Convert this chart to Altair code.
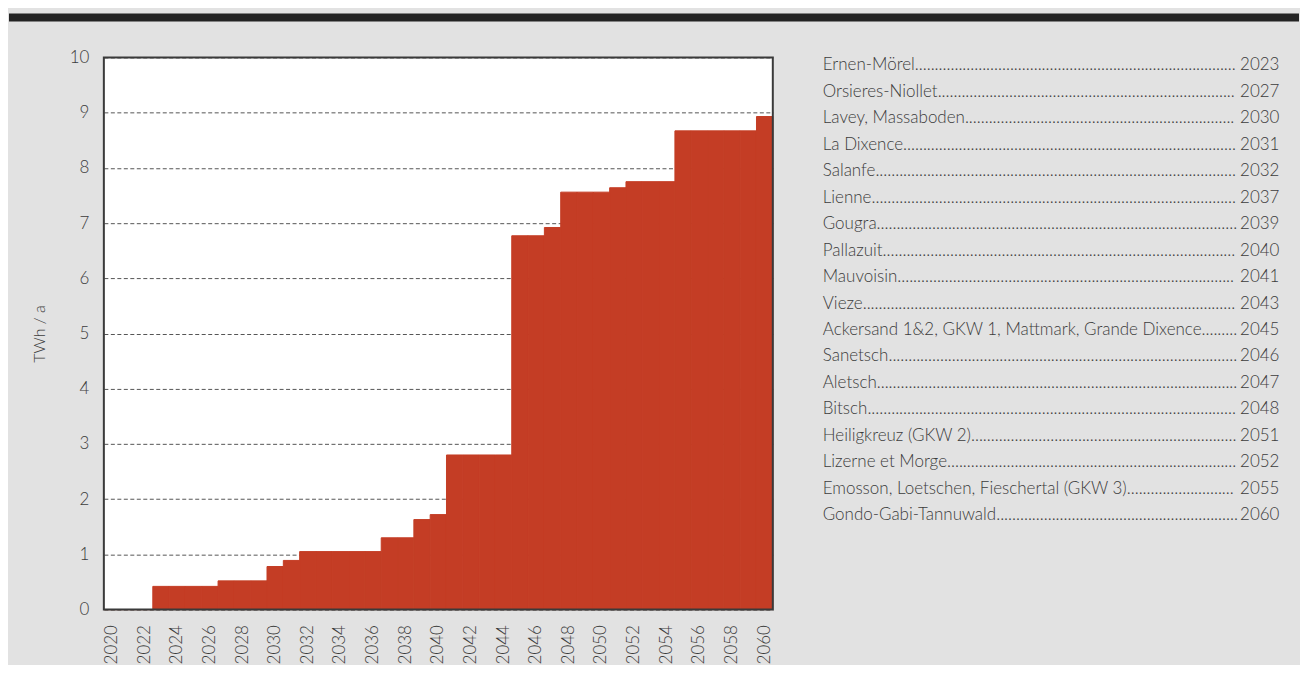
import altair as alt
import pandas as pd

# ---- data ----
years = list(range(2020, 2061))
twh = [0, 0, 0, 0.42, 0.42, 0.42, 0.42, 0.52, 0.52, 0.52, 0.78, 0.89,
       1.05, 1.05, 1.05, 1.05, 1.05, 1.30, 1.30, 1.63, 1.72,
       2.80, 2.80, 2.80, 2.80, 6.77, 6.77, 6.92, 7.56, 7.56, 7.56, 7.64,
       7.75, 7.75, 7.75, 8.67, 8.67, 8.67, 8.67, 8.67, 8.93]

plants = ["Ernen-Mörel", "Orsieres-Niollet", "Lavey, Massaboden", "La Dixence",
          "Salanfe", "Lienne", "Gougra", "Pallazuit", "Mauvoisin", "Vieze",
          "Ackersand 1&2, GKW 1, Mattmark, Grande Dixence", "Sanetsch", "Aletsch",
          "Bitsch", "Heiligkreuz (GKW 2)", "Lizerne et Morge",
          "Emosson, Loetschen, Fieschertal (GKW 3)", "Gondo-Gabi-Tannuwald"]
plant_years = [2023, 2027, 2030, 2031, 2032, 2037, 2039, 2040, 2041, 2043,
               2045, 2046, 2047, 2048, 2051, 2052, 2055, 2060]

x_tick_years = list(range(2020, 2061, 2))
y_ticks = list(range(0, 11))

# ---- style ----
RED = "#c43d25"
BG = "#e2e2e2"
INK = "#3c3c3c"
FONT = "Lato"
W, H = 670, 553

df = pd.DataFrame({"year": years, "twh": twh})
one = pd.DataFrame({"k": [0]})

bars = alt.Chart(df).mark_bar(color=RED, stroke=RED, strokeWidth=1).encode(
    x=alt.X("year:O",
            scale=alt.Scale(paddingInner=0, paddingOuter=0),
            axis=alt.Axis(values=x_tick_years, labelAngle=-90, ticks=False, domain=False,
                          labelPadding=15, title=None, labelFontSize=17, labelColor=INK,
                          labelFont=FONT, labelFontWeight=300, grid=False)),
    y=alt.Y("twh:Q",
            scale=alt.Scale(domain=[0, 10], nice=False),
            axis=alt.Axis(values=y_ticks, ticks=False, domain=False, labelPadding=15,
                          title="TWh / a", titlePadding=22, titleFontSize=16,
                          titleFontWeight=300, titleColor=INK, titleFont=FONT,
                          labelFontSize=17, labelColor=INK, labelFont=FONT,
                          labelFontWeight=300,
                          grid=True, gridDash=[4, 2.5], gridColor="#555", gridWidth=1)),
)

frame = alt.Chart(one).mark_rect(fill="transparent", stroke="#3a3a3a", strokeWidth=2).encode(
    x=alt.value(0), x2=alt.value(W), y=alt.value(0), y2=alt.value(H))

topbar = alt.Chart(one).mark_rect(color="#232323").encode(
    x=alt.value(-95), x2=alt.value(1197), y=alt.value(-44), y2=alt.value(-36))

main = alt.layer(bars, frame, topbar).properties(
    width=W, height=H, view=alt.ViewBackground(fill="white", stroke="transparent"))

# ---- list of plants on the right (name + dotted leader, then year) ----
ldf = pd.DataFrame({"name": plants, "yr": [str(y) for y in plant_years],
                    "row": list(range(len(plants)))})
yenc = alt.Y("row:Q", scale=alt.Scale(domain=[-0.302, 20.566], reverse=True,
                                      nice=False, zero=False), axis=None)
base = alt.Chart(ldf)
LW = 470
FS = 17
names = base.transform_calculate(
    label="datum.name + '" + "." * 160 + "'"
).mark_text(align="left", baseline="middle", fontSize=FS, font=FONT, fontWeight=300,
            color=INK, limit=416, ellipsis=".").encode(
    x=alt.value(0), y=yenc, text="label:N")
yrs = base.mark_text(align="left", baseline="middle", fontSize=FS, font=FONT, fontWeight=300,
                     color=INK).encode(x=alt.value(418), y=yenc, text="yr:N")
legend = alt.layer(names, yrs).properties(
    width=LW, height=H, view=alt.ViewBackground(stroke="transparent"))

chart = alt.hconcat(main, legend, spacing=50, bounds="flush").properties(
    background=BG,
    padding={"left": 0, "top": 4, "right": 0, "bottom": 0},
).configure_view(stroke="transparent")

chart.save("out.html", embed_options={"renderer": "svg", "actions": False})
